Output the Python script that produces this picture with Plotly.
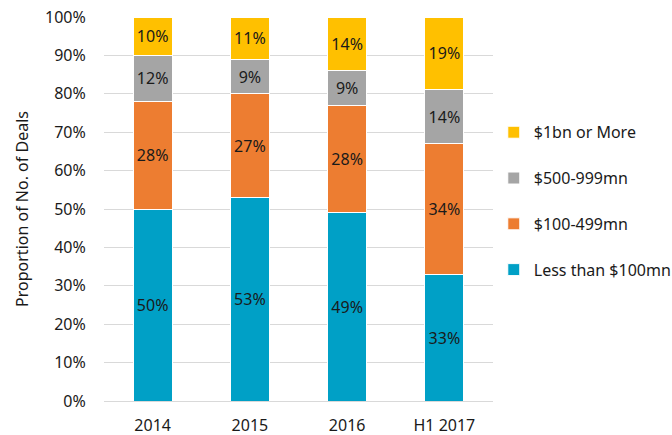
import plotly.graph_objects as go

categories = ["2014", "2015", "2016", "H1 2017"]
less_100 = [50, 53, 49, 33]
mn_100_499 = [28, 27, 28, 34]
mn_500_999 = [12, 9, 9, 14]
bn_1_more = [10, 11, 14, 19]

series = [
    ("Less than $100mn", less_100, "#00A0C6"),
    ("$100-499mn", mn_100_499, "#ED7D31"),
    ("$500-999mn", mn_500_999, "#A5A5A5"),
    ("$1bn or More", bn_1_more, "#FFC000"),
]

FONT = "Noto Sans"
fig = go.Figure()
for i, (name, vals, col) in enumerate(series):
    fig.add_trace(go.Bar(
        x=categories, y=vals, name=name, legendgroup=name,
        legendrank=100 - i,
        marker=dict(color=col, line=dict(color="white", width=1)),
        text=[f"{v}%" for v in vals], textposition="inside",
        insidetextanchor="middle", textangle=0,
        textfont=dict(family=FONT, size=16, color="#1a1a1a"),
        hoverinfo="skip",
    ))

fig.update_layout(
    barmode="stack", bargap=0.6,
    width=672, height=435,
    margin=dict(l=104, r=179, t=17, b=34, autoexpand=False),
    paper_bgcolor="white", plot_bgcolor="white",
    font=dict(family=FONT, size=16, color="#1a1a1a"),
    showlegend=True,
    legend=dict(traceorder="grouped", x=1.002, xanchor="left", y=0.52, yanchor="middle",
                tracegroupgap=22, font=dict(size=16), itemwidth=30,
                bgcolor="rgba(0,0,0,0)"),
    uniformtext=dict(minsize=16, mode="show"),
)
fig.update_yaxes(range=[0, 100], dtick=10, ticksuffix="%", showgrid=True,
                 gridcolor="#D9D9D9", gridwidth=1, zeroline=False, showline=False,
                 ticks="outside", ticklen=14, tickcolor="rgba(0,0,0,0)",
                 title=dict(text="Proportion of No. of Deals", font=dict(size=16), standoff=12),
                 automargin=False)
fig.update_xaxes(showline=True, linecolor="#D9D9D9", linewidth=1, ticks="outside",
                 ticklen=10, tickcolor="rgba(0,0,0,0)", automargin=False)

fig.write_html("out.html", config={"displayModeBar": False},
               post_script="document.body.style.margin='0';document.body.style.overflow='hidden';")
